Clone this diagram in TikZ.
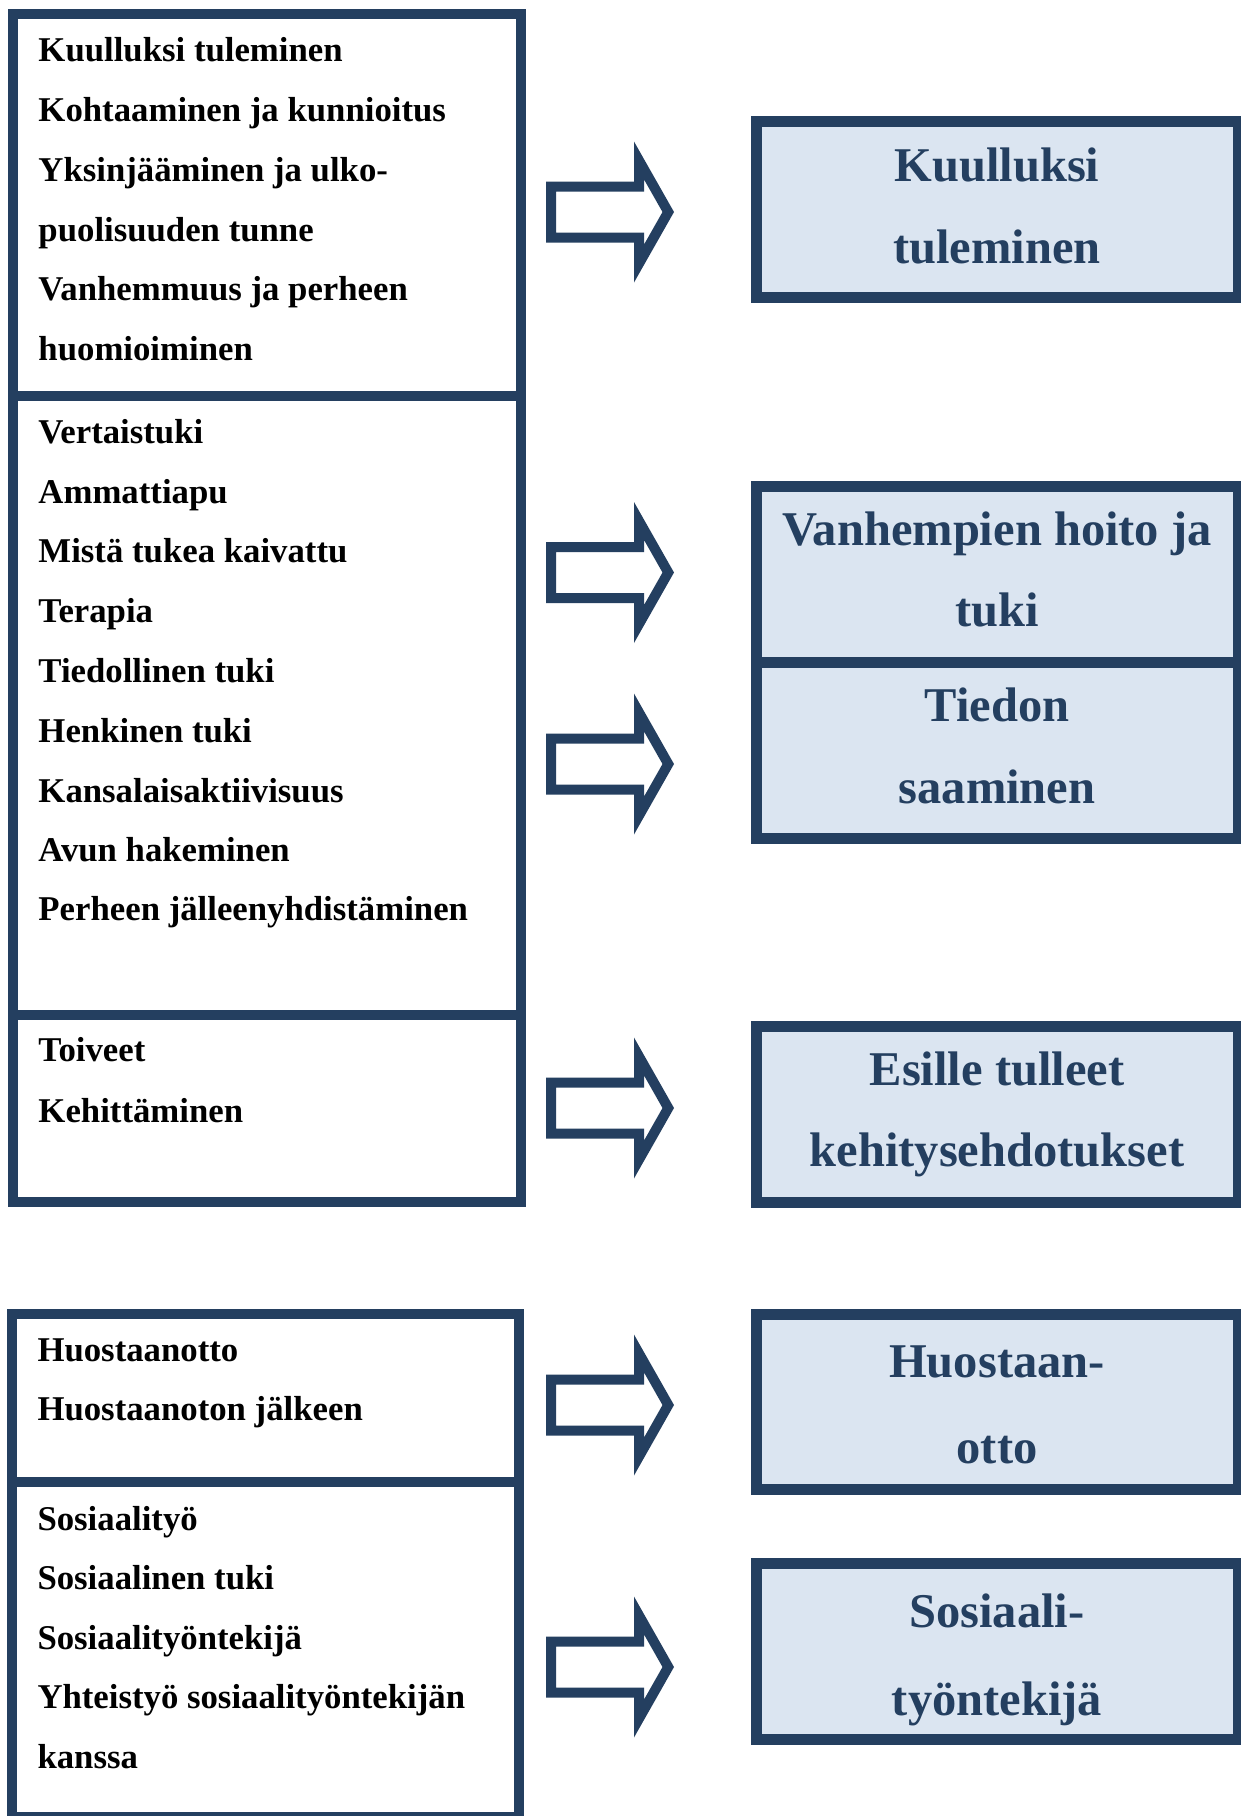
\documentclass[tikz,border=0pt]{standalone}
\usepackage{fontspec}
\setmainfont{Liberation Serif}
\definecolor{navy}{RGB}{36,63,96}
\definecolor{paleblue}{RGB}{219,229,241}
\tikzset{
  lbox/.style={draw=navy, line width=4.2pt, fill=white},
  rbox/.style={draw=navy, line width=4.4pt, fill=paleblue},
  lefttext/.style={anchor=base west, inner sep=0pt, font=\fontsize{13.9}{16}\selectfont\bfseries, text=black},
  righttext/.style={anchor=base, inner sep=0pt, font=\fontsize{19.4}{23}\selectfont\bfseries, text=navy},
}
\newcommand{\blockarrow}[2]{%
  \fill[navy, even odd rule]
    (546,{#2-30.5}) -- (634,{#2-30.5}) -- (634,{#2-70.5}) -- (674,#2) -- (634,{#2+70.5}) -- (634,{#2+30.5}) -- (546,{#2+30.5}) -- cycle
    (556,{#2-20.5}) -- (644,{#2-20.5}) -- (644,{#2-32.6}) -- (662.5,#2) -- (644,{#2+32.6}) -- (644,{#2+20.5}) -- (556,{#2+20.5}) -- cycle;
  \coordinate (#1) at (674,#2);
}
\begin{document}
\begin{tikzpicture}[x=0.4pt, y=-0.4pt]
\useasboundingbox (0,0) rectangle (1241,1816);
\clip (0,0) rectangle (1241,1816);
\fill[white] (0,0) rectangle (1241,1816);

% left boxes
\draw[lbox] (13,14) rectangle (521,396);
\draw[lbox] (13,396) rectangle (521,1015);
\draw[lbox] (13,1015) rectangle (521,1202);
\draw[lbox] (12,1314) rectangle (519,1482);
\draw[lbox] (12,1482) rectangle (519,1817);

% left texts
\node[lefttext] (a1) at (38,61.7) {Kuulluksi tuleminen};
\node[lefttext] (a2) at (38,121.7) {Kohtaaminen ja kunnioitus};
\node[lefttext] (a3) at (38,181.5) {Yksinjääminen ja ulko-};
\node[lefttext] (a4) at (38,241) {puolisuuden tunne};
\node[lefttext] (a5) at (38,300.5) {Vanhemmuus ja perheen};
\node[lefttext] (a6) at (38,360.3) {huomioiminen};

\node[lefttext] (b1) at (38,443.3) {Vertaistuki};
\node[lefttext] (b2) at (38,503.3) {Ammattiapu};
\node[lefttext] (b3) at (38,562.3) {Mistä tukea kaivattu};
\node[lefttext] (b4) at (38,622) {Terapia};
\node[lefttext] (b5) at (38,682) {Tiedollinen tuki};
\node[lefttext] (b6) at (38,742.5) {Henkinen tuki};
\node[lefttext] (b7) at (38,802.5) {Kansalaisaktiivisuus};
\node[lefttext] (b8) at (38,861.7) {Avun hakeminen};
\node[lefttext] (b9) at (38,920.7) {Perheen jälleenyhdistäminen};

\node[lefttext] (c1) at (38,1061.7) {Toiveet};
\node[lefttext] (c2) at (38,1122.7) {Kehittäminen};

\node[lefttext] (d1) at (37,1361) {Huostaanotto};
\node[lefttext] (d2) at (37,1420) {Huostaanoton jälkeen};

\node[lefttext] (e1) at (37,1530) {Sosiaalityö};
\node[lefttext] (e2) at (37,1589.5) {Sosiaalinen tuki};
\node[lefttext] (e3) at (37,1649) {Sosiaalityöntekijä};
\node[lefttext] (e4) at (37,1708.5) {Yhteistyö sosiaalityöntekijän};
\node[lefttext] (e5) at (37,1768) {kanssa};

% arrows
\blockarrow{p1}{212}
\blockarrow{p2}{572.5}
\blockarrow{p3}{764}
\blockarrow{p4}{1108}
\blockarrow{p5}{1405}
\blockarrow{p6}{1667}

% right boxes
\draw[rbox] (756,121) rectangle (1238,297);
\draw[rbox] (756,486) rectangle (1238,662);
\draw[rbox] (756,662) rectangle (1238,838);
\draw[rbox] (756,1026) rectangle (1238,1202);
\draw[rbox] (756,1314) rectangle (1238,1489);
\draw[rbox] (756,1563) rectangle (1238,1739);

% right texts
\node[righttext] (r1a) at (997,181.7) {Kuulluksi};
\node[righttext] (r1b) at (997,263) {tuleminen};
\node[righttext] (r2a) at (997,545) {Vanhempien hoito ja};
\node[righttext] (r2b) at (997,626.7) {tuki};
\node[righttext] (r3a) at (997,721.7) {Tiedon};
\node[righttext] (r3b) at (997,803.3) {saaminen};
\node[righttext] (r4a) at (997,1085) {Esille tulleet};
\node[righttext] (r4b) at (997,1166.7) {kehitysehdotukset};
\node[righttext] (r5a) at (997,1377.3) {Huostaan-};
\node[righttext] (r5b) at (997,1463.3) {otto};
\node[righttext] (r6a) at (997,1627) {Sosiaali-};
\node[righttext] (r6b) at (997,1715) {työntekijä};
\end{tikzpicture}
\end{document}
